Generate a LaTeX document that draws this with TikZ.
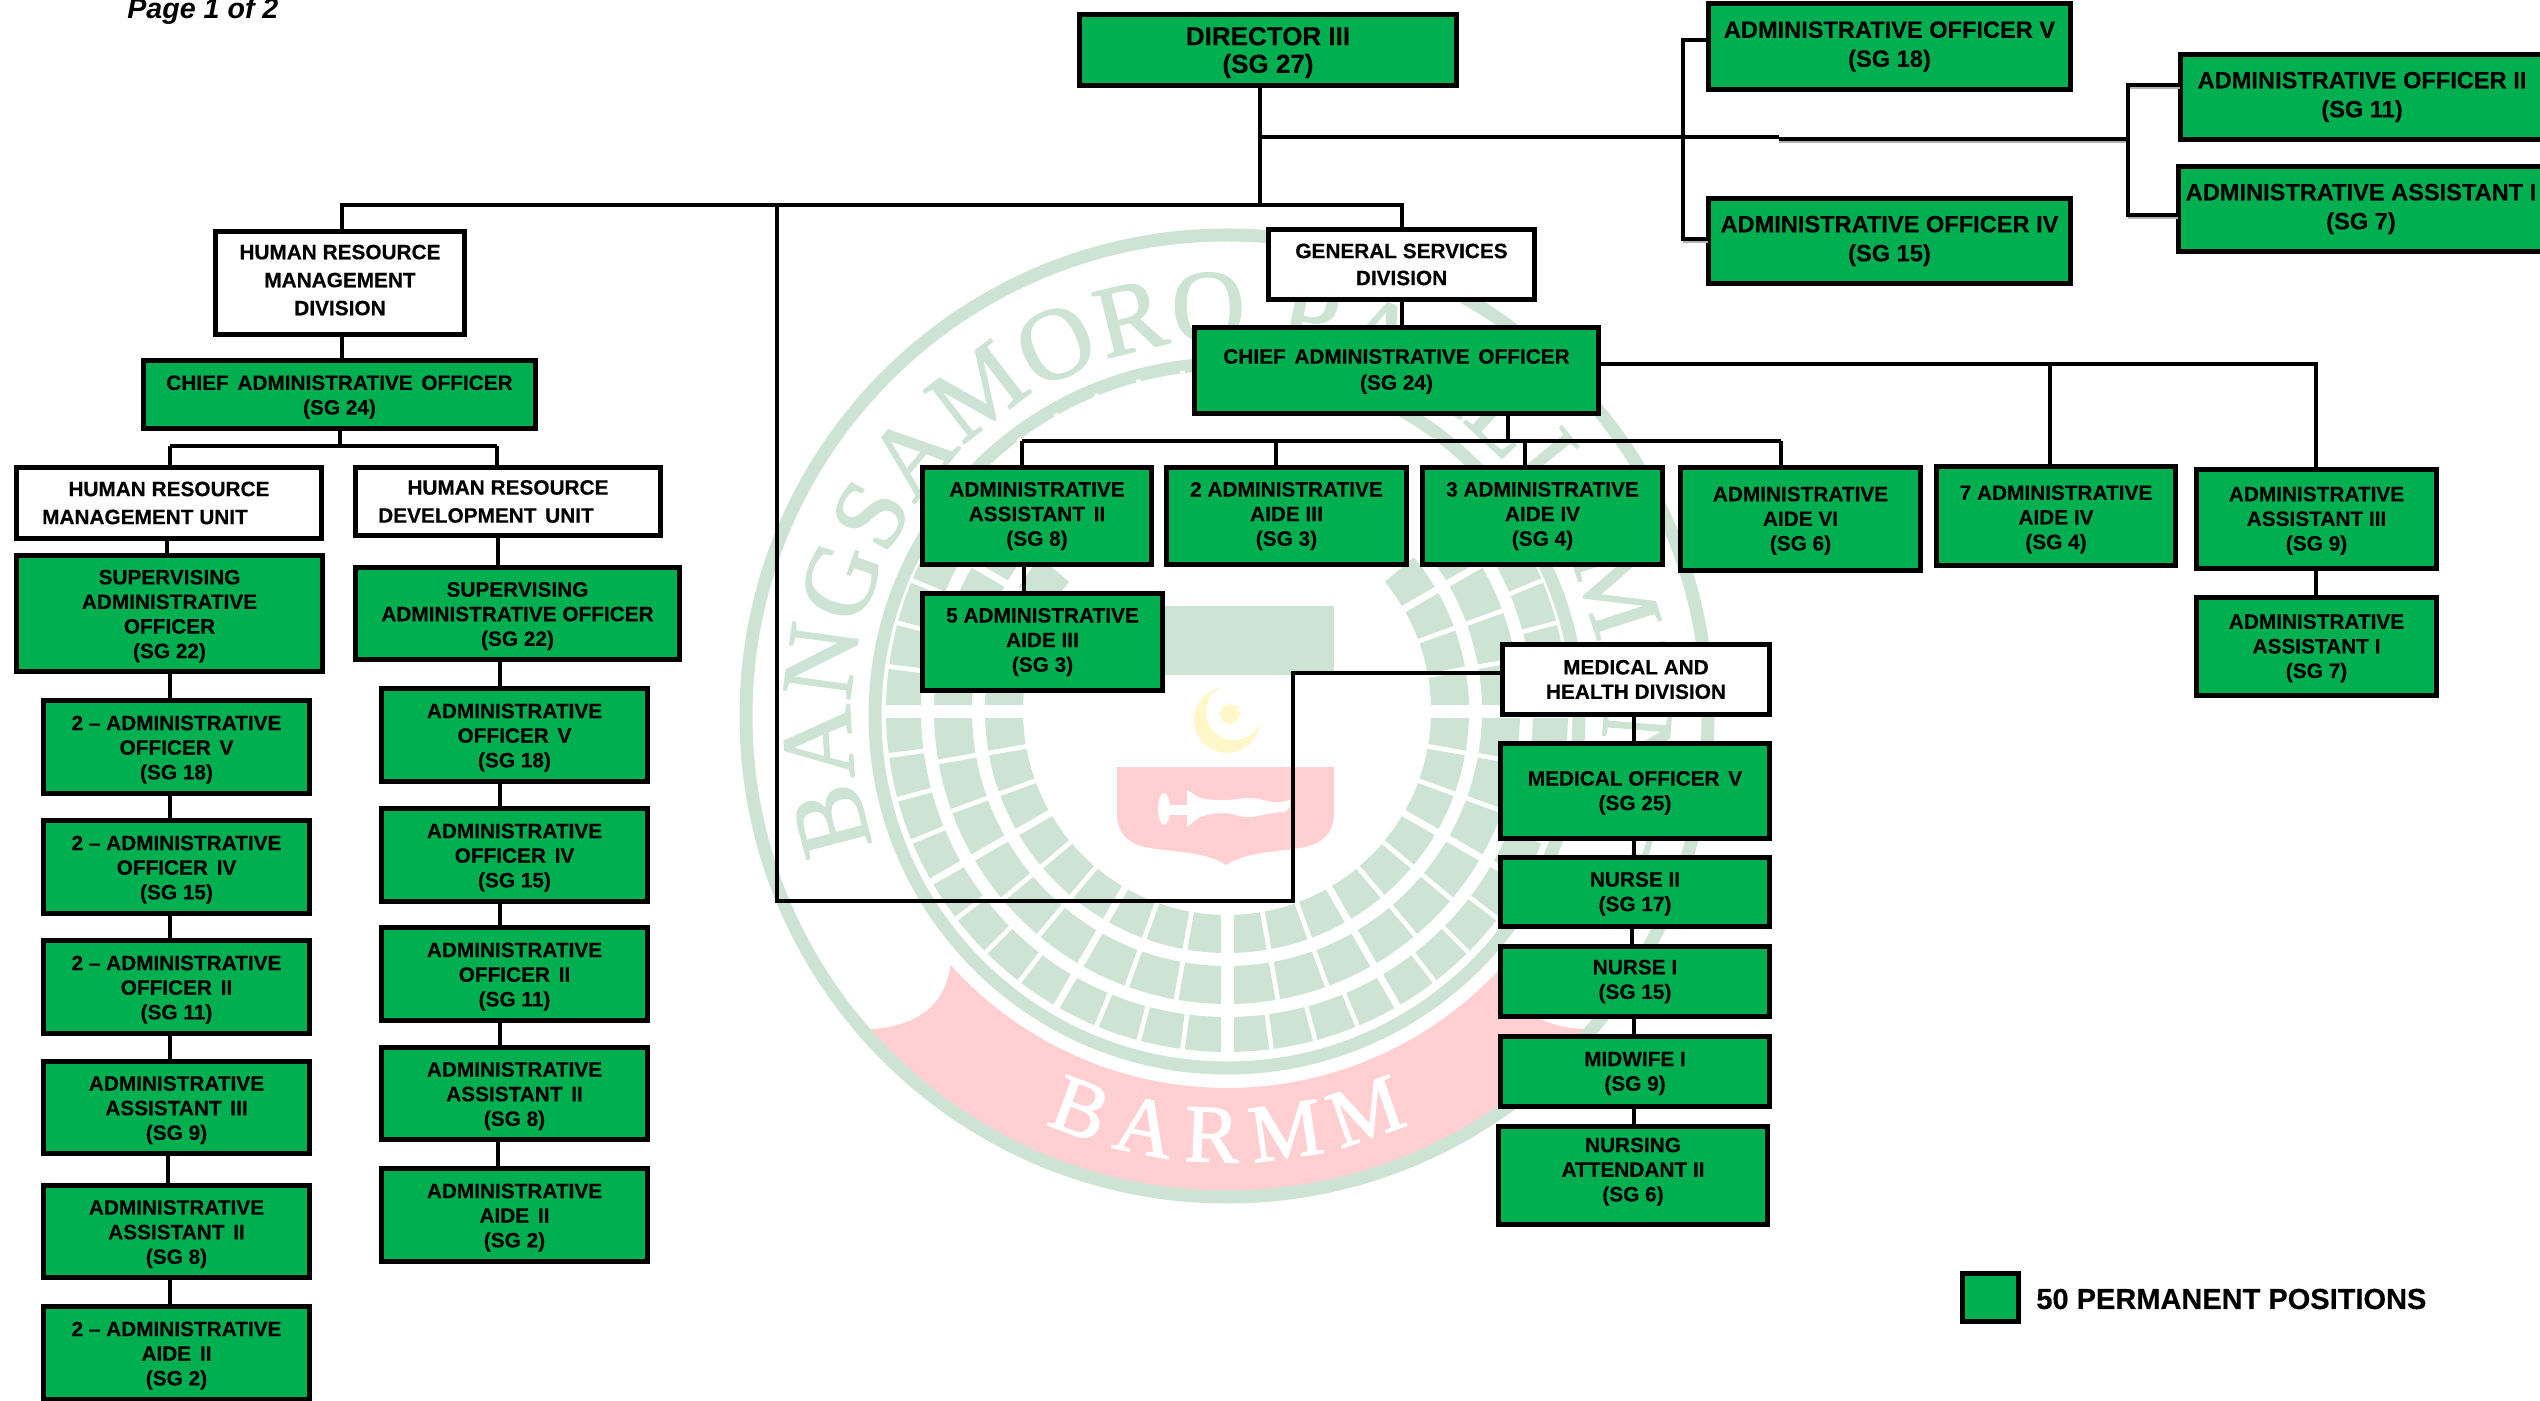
\documentclass[tikz,border=0pt]{standalone}
\usepackage{fontspec}
\setmainfont{Liberation Sans}[BoldFeatures={FakeBold=0.3}]
\newfontfamily\sealfont{Liberation Serif}[FakeBold=1.5]
\usetikzlibrary{decorations.text}
\definecolor{boxgreen}{HTML}{00B050}
\definecolor{sealgreen}{HTML}{CDE4D4}
\definecolor{sealpink}{HTML}{FFCFD2}
\definecolor{sealyellow}{HTML}{FFF7C8}
\newcommand{\dnh}{0}
\tikzset{
  basebox/.style={draw=black,line width=2.4pt,inner sep=0pt,outer sep=0pt,align=center,text=black},
  gbox/.style={basebox,fill=boxgreen,font=\bfseries\fontsize{10.4}{12.3}\selectfont},
  wbox/.style={basebox,fill=white,font=\bfseries\fontsize{10.4}{14}\selectfont},
  dn/.code={\renewcommand{\dnh}{#1}},
  lbox/.style={gbox,dn=9.9},
  conn/.style={draw=black,line width=1.7pt,line join=miter},
  thickconn/.style={draw=black,line width=2.2pt},
  shadowline/.style={draw=black!30,line width=1.4pt},
  big/.style={font=\bfseries\fontsize{11.8}{14.5}\selectfont},
  sealring/.style={draw=sealgreen,line width=6.5pt},
  seatrow/.style={draw=sealgreen},
}
\newcommand{\ws}{\ \hspace{.14em}}
\newcommand{\bx}[7][gbox]{%
  \pgfmathsetmacro\cxx{(#3+#5)/2}%
  \pgfmathsetmacro\cyy{(#4+#6)/2}%
  \pgfmathsetmacro\ww{(#5-#3-4.8)*0.5}%
  \pgfmathsetmacro\hh{(#6-#4-4.8)*0.5}%
  \node[#1,minimum width=\ww pt,minimum height=\hh pt] (#2) at (\cxx,\cyy) {\rule{0pt}{\dnh pt}#7};}
\newcommand{\vlink}[3]{%
  \coordinate (tmpx) at (#3,0);
  \draw[thickconn] (#1.south -| tmpx) -- (#2.north -| tmpx);}
\begin{document}
\begin{tikzpicture}[x=0.5pt,y=-0.5pt]
\useasboundingbox (0,0) rectangle (2540,1401);
% ---- watermark seal
\begin{scope}[shift={(1227,716)},y=0.5pt]
  \fill[sealpink] (-139:478) arc[start angle=-139,end angle=-41,radius=478]
    .. controls (310,-311) and (282,-290) .. (-42:372)
    arc[start angle=-42,end angle=-138,radius=372]
    .. controls (-282,-290) and (-310,-311) .. (-139:478) -- cycle;
  \draw[sealring] (0,0) circle[radius=481];
  \draw[sealring] (0,0) circle[radius=352];
  \path[decorate,decoration={text along path,text align={fit to path},
      text={|\sealfont\fontsize{51}{51}\selectfont\color{sealgreen}|BANGSAMORO PARLIAMENT}}]
      (200:376) arc[start angle=200,end angle=-20,radius=376];
  \path[decorate,decoration={text along path,text align={fit to path},
      text={|\sealfont\fontsize{41}{41}\selectfont\color{white}|BARMM}}]
      (-114:446) arc[start angle=-114,end angle=-66,radius=446];
\end{scope}
\begin{scope}[shift={(1227,711)},y=0.5pt]
  \foreach \rr/\lw/\st in {223/19/10,274/19/10,323.5/17.5/7.5}{
    \draw[seatrow,line width=\lw pt] (40:\rr) arc[start angle=40,end angle=-220,radius=\rr];
    \pgfmathsetmacro\rin{\rr-\lw-2}
    \pgfmathsetmacro\rout{\rr+\lw+2}
    \foreach \k in {-36,...,36}{
      \pgfmathsetmacro\ang{\k*\st}
      \draw[white,line width=2.2pt] (\ang:\rin) -- (\ang:\rout);
    }
  }
  \foreach \ang in {-210,-150,-120,-60,-30,30}{
    \draw[white,line width=3.5pt] (\ang:195) -- (\ang:345);
  }
  \foreach \ang in {0,-90,-180}{
    \draw[white,line width=6.5pt] (\ang:195) -- (\ang:345);
  }
\end{scope}
\fill[sealgreen] (1117,606) rectangle (1334,675);
\fill[sealyellow] (1227,720) circle[radius=33];
\fill[white] (1234,712) circle[radius=28];
\fill[sealyellow] (1222,706) rectangle (1238,722);
\fill[sealyellow,rotate around={45:(1230,714)}] (1222,706) rectangle (1238,722);
\fill[sealpink] (1117,767) -- (1334,767) -- (1334,813)
  .. controls (1334,835) and (1320,845) .. (1300,848)
  .. controls (1275,852) and (1245,852) .. (1226,865)
  .. controls (1207,852) and (1175,852) .. (1150,848)
  .. controls (1130,845) and (1117,835) .. (1117,813) -- cycle;
\fill[white] (1164,809) ellipse[x radius=6,y radius=16];
\fill[white] (1164,805) rectangle (1190,815);
\fill[white] (1187,790) -- (1187,827) -- (1200,817)
  .. controls (1215,812) and (1225,812) .. (1240,816)
  .. controls (1255,820) and (1265,812) .. (1285,812)
  .. controls (1290,808) .. (1290,800)
  .. controls (1270,806) and (1265,798) .. (1250,798)
  .. controls (1235,798) and (1225,803) .. (1200,798) -- cycle;
% ---- page note
\node[anchor=base west,inner sep=0pt,font=\bfseries\itshape\fontsize{14.3}{16}\selectfont] (page) at (127,19) {Page 1 of 2};
% ---- top
\bx[gbox,dn=11.7,font=\bfseries\fontsize{13}{13.8}\selectfont]{dir}{1077}{12}{1459}{88}{DIRECTOR III\\(SG 27)}
\bx[gbox,big]{aov}{1706}{1}{2073}{92}{ADMINISTRATIVE OFFICER V\\(SG 18)}
\bx[gbox,big]{aoiv}{1706}{196}{2073}{286}{ADMINISTRATIVE OFFICER IV\\(SG 15)}
\bx[gbox,big]{aoii}{2178}{52}{2546}{142}{ADMINISTRATIVE OFFICER II\\(SG 11)}
\bx[gbox,big]{aai}{2176}{164}{2546}{254}{ADMINISTRATIVE ASSISTANT I\\(SG 7)}
% ---- HR division
\bx[wbox]{hrmd}{213}{229}{467}{337}{HUMAN RESOURCE\\MANAGEMENT\\DIVISION\rule[-3pt]{0pt}{3pt}}
\bx[lbox]{hcao}{141}{358}{538}{431}{CHIEF\ws ADMINISTRATIVE\ws OFFICER\\(SG 24)}
\bx[wbox]{hrmu}{14}{465}{324}{541}{HUMAN RESOURCE\\MANAGEMENT UNIT\hspace*{24pt}}
\bx[wbox]{hrdu}{353}{465}{663}{538}{HUMAN RESOURCE\\DEVELOPMENT\ws UNIT\hspace*{22pt}}
\bx[lbox]{sup1}{14}{553}{325}{674}{SUPERVISING\\ADMINISTRATIVE\\OFFICER\\(SG 22)}
\bx[lbox]{sup2}{353}{565}{682}{662}{SUPERVISING\\ADMINISTRATIVE OFFICER\\(SG 22)}
\bx[lbox]{a1}{41}{698}{312}{796}{2 -- ADMINISTRATIVE\\OFFICER\ws V\\(SG 18)}
\bx[lbox]{a2}{41}{818}{312}{916}{2 -- ADMINISTRATIVE\\OFFICER\ws IV\\(SG 15)}
\bx[lbox]{a3}{41}{938}{312}{1036}{2 -- ADMINISTRATIVE\\OFFICER\ws II\\(SG 11)}
\bx[lbox]{a4}{41}{1059}{312}{1156}{ADMINISTRATIVE\\ASSISTANT\ws III\\(SG 9)}
\bx[lbox]{a5}{41}{1183}{312}{1280}{ADMINISTRATIVE\\ASSISTANT\ws II\\(SG 8)}
\bx[lbox]{a6}{41}{1304}{312}{1402}{2 -- ADMINISTRATIVE\\AIDE\ws II\\(SG 2)}
\bx[lbox]{b1}{379}{686}{650}{784}{ADMINISTRATIVE\\OFFICER\ws V\\(SG 18)}
\bx[lbox]{b2}{379}{806}{650}{904}{ADMINISTRATIVE\\OFFICER\ws IV\\(SG 15)}
\bx[lbox]{b3}{379}{925}{650}{1023}{ADMINISTRATIVE\\OFFICER\ws II\\(SG 11)}
\bx[lbox]{b4}{379}{1045}{650}{1142}{ADMINISTRATIVE\\ASSISTANT\ws II\\(SG 8)}
\bx[lbox]{b5}{379}{1166}{650}{1264}{ADMINISTRATIVE\\AIDE\ws II\\(SG 2)}
% ---- general services
\bx[wbox,font=\bfseries\fontsize{10.4}{13.5}\selectfont]{gsd}{1266}{227}{1537}{302}{GENERAL SERVICES\\DIVISION}
\bx[gbox,dn=8.3,font=\bfseries\fontsize{10.4}{13}\selectfont]{gcao}{1192}{325}{1601}{416}{CHIEF\ws ADMINISTRATIVE\ws OFFICER\\(SG 24)}
\bx{g1}{920}{465}{1154}{567}{ADMINISTRATIVE\\ASSISTANT\ws II\\(SG 8)}
\bx{g2}{1164}{465}{1409}{567}{2 ADMINISTRATIVE\\AIDE III\\(SG 3)}
\bx{g3}{1420}{465}{1665}{567}{3 ADMINISTRATIVE\\AIDE IV\\(SG 4)}
\bx[gbox,dn=9.05]{g4}{1678}{465}{1923}{573}{ADMINISTRATIVE\\AIDE VI\\(SG 6)}
\bx[gbox,dn=10.65]{g5}{1934}{464}{2178}{568}{7 ADMINISTRATIVE\\AIDE IV\\(SG 4)}
\bx[gbox,dn=9.05]{g6}{2194}{467}{2439}{571}{ADMINISTRATIVE\\ASSISTANT III\\(SG 9)}
\bx[gbox,dn=9.05]{g7}{2194}{595}{2439}{698}{ADMINISTRATIVE\\ASSISTANT I\\(SG 7)}
\bx{g8}{920}{591}{1165}{693}{5 ADMINISTRATIVE\\AIDE III\\(SG 3)}
% ---- medical
\bx[wbox,font=\bfseries\fontsize{10.4}{12.2}\selectfont]{mhd}{1500}{642}{1772}{717}{MEDICAL AND\\HEALTH DIVISION}
\bx[gbox,dn=9.05]{m1}{1498}{741}{1772}{841}{MEDICAL OFFICER\ws V\\(SG 25)}
\bx[gbox,dn=9.05]{m2}{1498}{855}{1772}{929}{NURSE II\\(SG 17)}
\bx{m3}{1498}{944}{1772}{1019}{NURSE I\\(SG 15)}
\bx[gbox,dn=9.05]{m4}{1498}{1034}{1772}{1109}{MIDWIFE I\\(SG 9)}
\bx{m5}{1496}{1124}{1770}{1227}{NURSING\\ATTENDANT II\\(SG 6)\rule[-6pt]{0pt}{6pt}}
% ---- legend
\bx[gbox]{leg}{1960}{1271}{2021}{1324}{}
\node[anchor=west,inner sep=0pt,font=\bfseries\fontsize{14.5}{16}\selectfont] (legtext) at (2036,1299) {50 PERMANENT POSITIONS};
% ---- connectors
\coordinate (jt) at (1260,205);
\coordinate (jl) at (342,205);
\coordinate (jr) at (1402,205);
\coordinate (jm) at (777,205);
\coordinate (jmb) at (777,901);
\coordinate (jmc) at (1293,901);
\coordinate (jmd) at (1293,673);
\draw[conn] (dir.south -| jt) -- (jt);
\draw[conn] (hrmd.north -| jl) -- (jl) -- (jr) -- (gsd.north -| jr);
\draw[conn] (jm) -- (jmb) -- (jmc) -- (jmd) -- (mhd.west |- jmd);
% right-hand staff
\coordinate (h1) at (1260,137);
\coordinate (h2) at (1779,137);
\coordinate (h3) at (1779,139);
\coordinate (h4) at (2128,139);
\coordinate (bl) at (1683,40);
\coordinate (blb) at (1683,239);
\coordinate (br) at (2128,85);
\coordinate (brb) at (2128,215);
\draw[shadowline] ([yshift=-1.5pt]h3) -- ([yshift=-1.5pt]h4);
\draw[shadowline] ([yshift=-1.5pt]aoii.west |- br) -- ([yshift=-1.5pt]br);
\draw[shadowline] ([yshift=-1.5pt]aai.west |- brb) -- ([yshift=-1.5pt]brb);
\draw[shadowline] ([yshift=-1.5pt]aoiv.west |- blb) -- ([yshift=-1.5pt]blb);
\draw[conn] (h1) -- (h2);
\draw[conn] (h3) -- (h4);
\draw[conn] (aov.west |- bl) -- (bl) -- (blb) -- (aoiv.west |- blb);
\draw[conn] (aoii.west |- br) -- (br) -- (brb) -- (aai.west |- brb);
% HR
\vlink{hrmd}{hcao}{342}
\coordinate (ha) at (170,446);
\coordinate (hb) at (497,446);
\coordinate (hc) at (340,446);
\draw[thickconn] (ha) -- (hb);
\draw[thickconn] (hcao.south -| hc) -- (hc);
\draw[thickconn] (hrmu.north -| ha) -- (ha);
\draw[thickconn] (hrdu.north -| hb) -- (hb);
\vlink{hrmu}{sup1}{167}
\vlink{hrdu}{sup2}{498}
\vlink{sup1}{a1}{170}
\vlink{a1}{a2}{170}
\vlink{a2}{a3}{170}
\vlink{a3}{a4}{170}
\vlink{a4}{a5}{168}
\vlink{a5}{a6}{170}
\vlink{sup2}{b1}{500}
\vlink{b1}{b2}{500}
\vlink{b2}{b3}{500}
\vlink{b3}{b4}{500}
\vlink{b4}{b5}{498}
% GSD
\vlink{gsd}{gcao}{1402}
\coordinate (ga) at (1022,441);
\coordinate (gb) at (1781,441);
\coordinate (gc) at (1508,441);
\coordinate (gd) at (1276,441);
\coordinate (ge) at (1525,441);
\draw[thickconn] (ga) -- (gb);
\draw[conn] (gcao.south -| gc) -- (gc);
\draw[conn] (g1.north -| ga) -- (ga);
\draw[conn] (g2.north -| gd) -- (gd);
\draw[conn] (g3.north -| ge) -- (ge);
\draw[conn] (g4.north -| gb) -- (gb);
\coordinate (ra) at (2316,364);
\coordinate (rb) at (2050,364);
\draw[conn] (gcao.east |- ra) -- (ra) -- (g6.north -| ra);
\draw[conn] (rb) -- (g5.north -| rb);
\vlink{g6}{g7}{2316}
\vlink{g1}{g8}{1024}
% medical
\vlink{mhd}{m1}{1634}
\vlink{m1}{m2}{1634}
\vlink{m2}{m3}{1632}
\vlink{m3}{m4}{1634}
\vlink{m4}{m5}{1634}
\end{tikzpicture}
\end{document}
